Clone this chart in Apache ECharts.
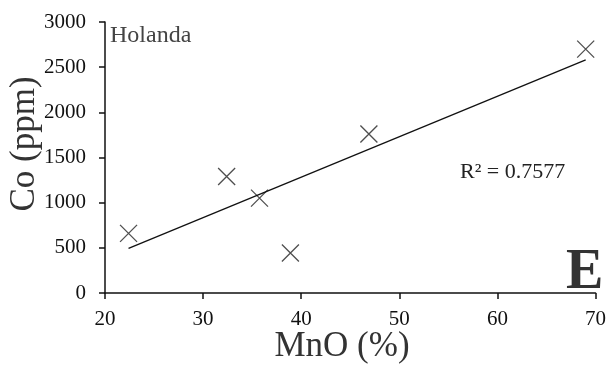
<!DOCTYPE html>
<html><head><meta charset="utf-8">
<script src="https://cdn.jsdelivr.net/npm/echarts@6/dist/echarts.min.js"></script>
<style>html,body{margin:0;padding:0;background:#fff}#c{width:609px;height:367px}</style>
</head><body><div id="c"></div>
<script>
var mnO = [22.4, 32.4, 35.75, 38.9, 46.9, 69.0];
var co = [660, 1290, 1050, 443, 1760, 2700];
var trendX = [22.4, 69.0];
var trendY = [495, 2580];
var xTicks = [20, 30, 40, 50, 60, 70];
var yTicks = [0, 500, 1000, 1500, 2000, 2500, 3000];

var pts = mnO.map(function (x, i) { return [x, co[i]]; });
var trend = trendX.map(function (x, i) { return [x, trendY[i]]; });
var F = 'Liberation Serif, Times New Roman, serif';
var chart = echarts.init(document.getElementById('c'));
chart.setOption({
  backgroundColor: '#fff',
  animation: false,
  grid: { left: 105, right: 12, top: 22, bottom: 74 },
  xAxis: {
    type: 'value', min: xTicks[0], max: xTicks[xTicks.length - 1], interval: 10,
    axisLine: { lineStyle: { color: '#111', width: 1.5 } },
    axisTick: { show: true, length: 6, lineStyle: { color: '#111', width: 1.5 } },
    axisLabel: { color: '#111', fontFamily: F, fontSize: 21, margin: 16,
      formatter: function (v) { return String(v); } },
    splitLine: { show: false }
  },
  yAxis: {
    type: 'value', min: yTicks[0], max: yTicks[yTicks.length - 1], interval: 500,
    axisLine: { show: true, lineStyle: { color: '#111', width: 1.5 } },
    axisTick: { show: true, length: 6, lineStyle: { color: '#111', width: 1.5 } },
    axisLabel: { color: '#111', fontFamily: F, fontSize: 21, margin: 19,
      formatter: function (v) { return String(v); } },
    splitLine: { show: false }
  },
  graphic: [
    { type: 'text', x: 25, y: 144, rotation: Math.PI / 2,
      style: { text: 'Co (ppm)', fill: '#333', font: '35px ' + F, align: 'center', verticalAlign: 'middle' } },
    { type: 'text', x: 342, y: 347,
      style: { text: 'MnO (%)', fill: '#333', font: '35px ' + F, align: 'center', verticalAlign: 'middle' } },
    { type: 'text', x: 110, y: 36, style: { text: 'Holanda', fill: '#444', font: '24px ' + F, verticalAlign: 'middle' } },
    { type: 'text', x: 460, y: 172, style: { text: 'R² = 0.7577', fill: '#222', font: '22px ' + F, verticalAlign: 'middle' } },
    { type: 'text', x: 566, y: 274, style: { text: 'E', fill: '#333', font: 'bold 56px ' + F, verticalAlign: 'middle' } }
  ],
  series: [
    { type: 'line', data: trend, symbol: 'none', lineStyle: { color: '#111', width: 1.3 } },
    { type: 'scatter', data: pts, symbol: 'path://M0,0L10,10M10,0L0,10', symbolSize: 17,
      itemStyle: { color: 'none', borderColor: '#222', borderWidth: 1.3 } }
  ]
});
</script></body></html>
